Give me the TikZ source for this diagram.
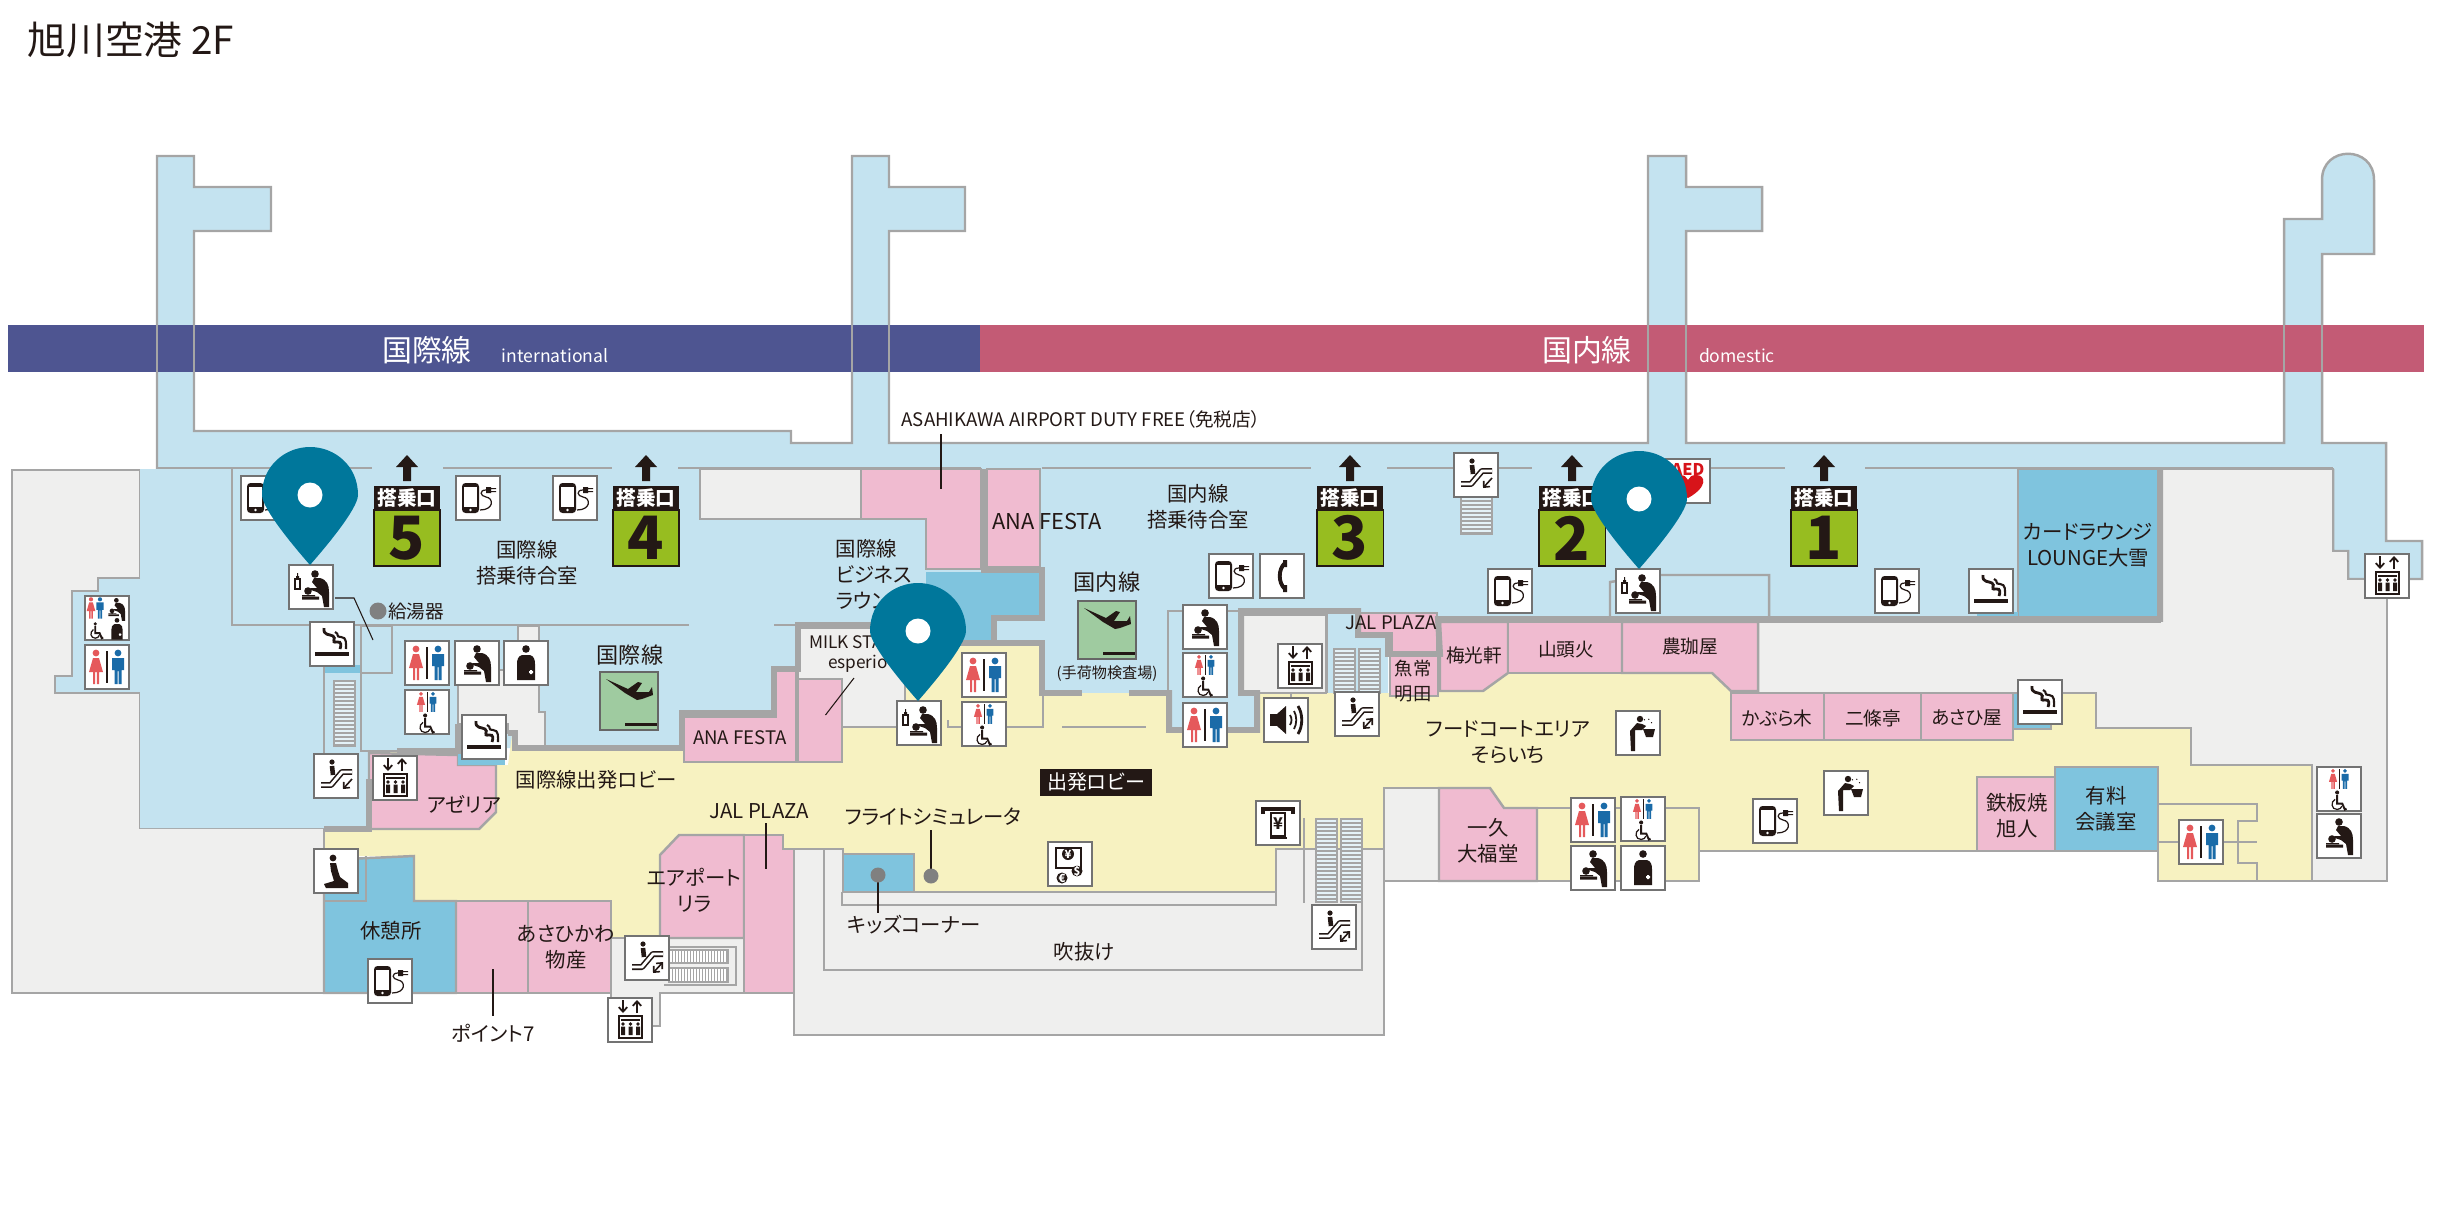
\documentclass[tikz,border=0pt]{standalone}
\usepackage{fontspec}
\setmainfont[RawFeature=+palt]{Noto Sans CJK JP}
\usetikzlibrary{positioning,arrows.meta}
\definecolor{airside}{HTML}{C4E3F0}
\definecolor{room}{HTML}{7FC4DE}
\definecolor{shop}{HTML}{F0BBD0}
\definecolor{lobby}{HTML}{F7F2C1}
\definecolor{blank}{HTML}{EFEFEE}
\definecolor{wall}{HTML}{A5A5A5}
\definecolor{ink}{HTML}{231815}
\definecolor{barblue}{HTML}{4E5591}
\definecolor{barred}{HTML}{C35B75}
\definecolor{gate}{HTML}{97BD20}
\definecolor{planebox}{HTML}{9FCBA0}
\definecolor{pincol}{HTML}{00779B}
\definecolor{manblue}{HTML}{1A6BA8}
\definecolor{womanred}{HTML}{E5595B}
\definecolor{aedred}{HTML}{D7141A}
\newcommand{\manfig}[3]{\begin{scope}[shift={(#1,#2)},scale=#3]
\fill[manblue] (0,-14) circle (3.4);
\fill[manblue] (-6,-9) -- (6,-9) -- (6,3) -- (3.5,3) -- (3.5,17) -- (0.5,17) -- (0.5,4) -- (-0.5,4) -- (-0.5,17) -- (-3.5,17) -- (-3.5,3) -- (-6,3) -- cycle;
\end{scope}}
\newcommand{\womanfig}[3]{\begin{scope}[shift={(#1,#2)},scale=#3]
\fill[womanred] (0,-14) circle (3.4);
\fill[womanred] (-3,-9) -- (3,-9) -- (7,5) -- (3,5) -- (3,17) -- (0.8,17) -- (0.8,5) -- (-0.8,5) -- (-0.8,17) -- (-3,17) -- (-3,5) -- (-7,5) -- cycle;
\end{scope}}
\newcommand{\adultfig}[3]{\begin{scope}[shift={(#1,#2)},scale=#3]
\fill[ink] (-1,-14) circle (3.8);
\fill[ink] (-2,-10) -- (4,-10) .. controls (11,-8) and (13,-3) .. (13,4) -- (13,19) -- (8,19) -- (6,8) -- (1,4) -- (-5,2) -- (-5,0) -- (1,0) -- (-4,-6) -- cycle;
\fill[ink] (-8,3) circle (3.8) (-14,7) rectangle (-1,8) (-14,8.5) rectangle (3,11.5);
\end{scope}}
\newcommand{\wheelfig}[3]{\begin{scope}[shift={(#1,#2)},scale=#3]
\fill[ink] (-1,-10) circle (2.4);
\draw[ink,line width=.55pt] (-1,-7) -- (-1,3) -- (5,3) -- (8,10) -- (10,9);
\draw[ink,line width=.35pt] (-3.5,-2) .. controls (-9,1) and (-8,10) .. (-1,10) .. controls (2,10) and (4,8) .. (4.5,6);
\end{scope}}
\newcommand{\ostofig}[3]{\begin{scope}[shift={(#1,#2)},scale=#3]
\fill[ink] (0,-14) circle (3.8);
\fill[ink] (-4,-8) -- (4,-8) .. controls (8,-7) and (9,-3) .. (9,1) -- (9,17) -- (-9,17) -- (-9,1) .. controls (-9,-3) and (-8,-7) .. (-4,-8) -- cycle;
\fill[white] (3,8) rectangle (7,10) (4,7) rectangle (6,11);
\end{scope}}
\begin{document}
\begin{tikzpicture}
[x=0.01cm,y=-0.01cm,>=stealth,
wallthin/.style = {draw = wall, line width = 0.7pt, line join = miter},
wallthick/.style = {draw = wall, line width = 1.7pt, line join = miter},
shopfill/.style = {wallthin, fill = shop},
roomfill/.style = {wallthin, fill = room},
blankfill/.style = {wallthin, fill = blank},
leader/.style = {draw = ink, line width = 0.3pt},
lab/.style = {text = ink, align = center, inner sep = 0pt, font = \fontsize{5.8}{7.4}\selectfont},
labsm/.style = {lab, font = \fontsize{5.3}{7.4}\selectfont},
labtiny/.style = {lab, font = \fontsize{4.9}{5.8}\selectfont},
labbig/.style = {lab, font = \fontsize{6.3}{7.4}\selectfont},
baricon/.style = {text = white, inner sep = 0pt},
tinyone/.style = {-{Straight Barb[length=1.3pt,width=2.4pt]}},
tinyboth/.style = {{Straight Barb[length=1.3pt,width=2.4pt]}-{Straight Barb[length=1.3pt,width=2.4pt]}},
icon/.style = {draw = black!55, line width = 0.45pt, fill = white, minimum width = 44*0.2845pt, minimum height = 44*0.2845pt, inner sep = 0pt},
gatetop/.style = {fill = ink, minimum width = 66*0.2845pt, minimum height = 24*0.2845pt, inner sep = 0pt, text = white, font = \fontsize{5.6}{6}\selectfont\bfseries},
gatenum/.style = {draw = ink, line width = 0.3pt, fill = gate, minimum width = 66*0.2845pt, minimum height = 56*0.2845pt, inner sep = 0pt, text = ink, font = \fontsize{17}{18}\selectfont\bfseries},
planesq/.style = {draw = black!60, line width = 0.4pt, fill = planebox, minimum width = 58*0.2845pt, minimum height = 58*0.2845pt, inner sep = 0pt},
wc/.pic = {\womanfig{-11}{0}{1} \manfig{11}{0}{1} \fill[ink] (-0.6,-16) rectangle (0.6,16);},
wheel/.pic = {\womanfig{-6}{-10}{.58} \manfig{6}{-10}{.58} \fill[ink] (-0.4,-20) rectangle (0.4,0); \wheelfig{-1}{12}{.85}},
baby/.pic = {\adultfig{1}{0}{1}},
babybottle/.pic = {\adultfig{5}{1}{1} \draw[ink,fill=white,line width=.35pt] (-16,-8) rectangle (-11,2); \fill[ink] (-15,-8) rectangle (-12,-11) (-14,-11) rectangle (-13,-14);},
osto/.pic = {\ostofig{0}{0}{1}},
combo/.pic = {\womanfig{-16}{-10}{.62} \manfig{-7}{-10}{.62} \adultfig{10}{-9}{.62} \wheelfig{-11}{13}{.72} \ostofig{10}{11}{.62}},
smoke/.pic = {\fill[ink] (-17,8) rectangle (17,12);
\draw[ink,line width=.8pt] (-8,-16) .. controls (-9,-8) and (-2,-10) .. (1,-8) .. controls (5,-6) and (-2,-1) .. (5,-2) .. controls (10,-3) and (9,2) .. (8,5);
\draw[ink,line width=.6pt] (3,-12) .. controls (8,-10) and (3,-7) .. (9,-7) .. controls (15,-7) and (14,0) .. (14,5);},
phone/.pic = {\fill[ink,rounded corners=1pt] (-16,-15) rectangle (1,15); \fill[white] (-14,-11) rectangle (-1,9); \fill[white] (-7.5,12) circle (1.4);
\fill[ink] (8,-11) rectangle (13,-5) (13,-10) rectangle (18,-9) (13,-7) rectangle (18,-6);
\draw[ink,line width=.35pt] (8,-8) .. controls (1,-8) and (2,-2) .. (8,-1) .. controls (16,0) and (16,12) .. (2,12);},
tel/.pic = {\draw[ink,line width=1.1pt] (3,-13) .. controls (-4,-7) and (-4,7) .. (3,13); \fill[ink] (1,-16) rectangle (5,-9) (1,9) rectangle (5,16);},
speaker/.pic = {\fill[ink] (-16,-6) rectangle (-9,6); \fill[ink] (-9,-6) -- (0,-14) -- (0,14) -- (-9,6) -- cycle;
\draw[ink,line width=.5pt] (4,-5) .. controls (6,-2) and (6,2) .. (4,5) (8,-9) .. controls (11,-4) and (11,4) .. (8,9);
\draw[ink,line width=.8pt] (12,-14) .. controls (17,-6) and (17,6) .. (12,14);},
escband/.pic = {\draw[ink,line width=1.7pt,line join=round] (-15,9) -- (-5,9) -- (6,-4) -- (16,-4);
\draw[white,line width=.8pt,line join=round] (-15,9) -- (-5,9) -- (6,-4) -- (16,-4);
\fill[ink] (-4,-14) circle (2.6); \draw[ink,line width=1.3pt] (-4,-10) -- (-3,-1);},
escdown/.pic = {\pic {escband}; \draw[ink,line width=.45pt,tinyone] (16,3) -- (7,13);},
escboth/.pic = {\pic {escband}; \draw[ink,line width=.45pt,tinyboth] (16,4) -- (6,15);},
elevator/.pic = {\draw[ink,line width=.5pt,tinyone] (-7,-20) -- (-7,-7); \draw[ink,line width=.5pt,tinyone] (7,-7) -- (7,-20);
\draw[ink,line width=.6pt] (-11,-4) rectangle (12,18); \draw[ink,line width=.3pt] (-9,0) -- (10,0);
\fill[ink] (-7,4) circle (1.8) (0.5,4) circle (1.8) (8,4) circle (1.8) (-9,6.5) rectangle (-5,15) (-1.5,6.5) rectangle (2.5,15) (6,6.5) rectangle (10,15);},
prayer/.pic = {\fill[ink] (-3,-13) circle (3.4);
\fill[ink] (-6,-8) -- (0,-8) -- (2,0) -- (4,6) -- (12,12) -- (12,17) -- (-10,17) -- (-12,13) -- (-2,10) -- (-5,0) -- cycle;},
drink/.pic = {\fill[ink] (2,-14) circle (3.2);
\fill[ink] (-1,-10) -- (4,-9) -- (8,-7) -- (4,-3) -- (-3,-3) -- (-3,18) -- (-7,18) -- (-8,-2) -- cycle;
\fill[ink] (5,-4) -- (17,-4) -- (15,4) -- (8,4) -- cycle;
\draw[ink,line width=.3pt,densely dotted] (6,-13) .. controls (10,-16) and (14,-13) .. (14,-8);},
atm/.pic = {\draw[ink,line width=.9pt] (-15,-9) -- (-15,-14) -- (15,-14) -- (15,-9); \draw[ink,line width=.5pt,fill=white] (-7,-10) rectangle (7,13);
\draw[ink,line width=.5pt] (-7,-10) -- (-7,15) -- (9,15);
\node (atmYen) at (0,1) [inner sep=0pt,text=ink,font=\fontsize{4.6}{5}\selectfont\bfseries] {¥};},
exchange/.pic = {\draw[ink,line width=.6pt] (-14,-16) rectangle (11,4); \fill[ink] (-2,-10) circle (6);
\node (exYen) at (-2,-10) [inner sep=0pt,text=white,font=\fontsize{3.2}{4}\selectfont\bfseries] {¥};
\fill[ink] (7,7) circle (5.5); \node (exDollar) at (7,7) [inner sep=0pt,text=white,font=\fontsize{3.2}{4}\selectfont\bfseries] {\$};
\fill[ink] (-8,14) circle (5.5); \node (exEuro) at (-8,14) [inner sep=0pt,text=white,font=\fontsize{3.2}{4}\selectfont\bfseries] {€};},
aed/.pic = {\node (aedText) at (0,-12) [inner sep=0pt,text=aedred,font=\fontsize{4.6}{5}\selectfont\bfseries] {AED};
\fill[aedred] (0,17) .. controls (-20,6) and (-18,-6) .. (-8,-6) .. controls (-4,-6) and (-1,-4) .. (0,-1) .. controls (1,-4) and (4,-6) .. (8,-6) .. controls (18,-6) and (20,6) .. (0,17) -- cycle;},
plane/.pic = {\fill[ink] (-23,-22) -- (-1,-12) -- (9,-19) -- (13,-18) -- (7,-9) -- (20,-9) -- (23,-14) -- (24,-6) -- (13,-2) -- (8,-1) -- (-4,-8) -- cycle; \fill[ink] (-4,22) rectangle (28,25);},
pin/.pic = {\fill[pincol] (0,0) .. controls (-14,-16) and (-48,-56) .. (-48,-70) .. controls (-48,-100) and (-24,-118) .. (0,-118) .. controls (24,-118) and (48,-100) .. (48,-70) .. controls (48,-56) and (14,-16) .. (0,0) -- cycle;
\fill[white] (0,-70) ellipse (12.5 and 12.5);},
]
\useasboundingbox (0,0) rectangle (2460,1230);
% outer gray parts
\draw[blankfill] (12,470) -- (140,470) -- (140,828) -- (324,828) -- (324,993) -- (12,993) -- cycle;
% piers and corridor
\def\pierpath{(157,469) -- (157,156) -- (194,156) -- (194,187) -- (271,187) -- (271,231) -- (194,231) -- (194,431) -- (791,431) -- (791,443) -- (852,443) -- (852,156) -- (889,156) -- (889,187) -- (965,187) -- (965,231) -- (889,231) -- (889,443) -- (1648,443) -- (1648,156) -- (1686,156) -- (1686,187) -- (1762,187) -- (1762,231) -- (1686,231) -- (1686,443) -- (2284,443) -- (2284,219) -- (2322,219) -- (2322,180) .. controls (2322,145) and (2374,145) .. (2374,180) -- (2374,254) -- (2322,254) -- (2322,443) -- (2386,443) -- (2386,541) -- (2422,541) -- (2422,579) -- (2348,579) -- (2348,551) -- (2333,551) -- (2333,469)}
\fill[airside] \pierpath -- cycle;
\draw[wallthin] \pierpath;
% airside base
\fill[airside] (140,469) -- (2160,469) -- (2160,619) -- (1440,619) -- (1440,654) -- (1388,654) -- (1388,693) -- (1327,693) -- (1327,611) -- (1240,611) -- (1240,693) -- (1258,693) -- (1258,731) -- (1170,731) -- (1170,693) -- (1042,693) -- (1042,643) -- (798,643) -- (798,669) -- (774,669) -- (774,713) -- (682,713) -- (682,748) -- (458,748) -- (458,751) -- (397,751) -- (369,779) -- (369,828) -- (140,828) -- cycle;
\fill[airside] (140,578) -- (98,578) -- (98,591) -- (72,591) -- (72,676) -- (55,676) -- (55,693) -- (140,693) -- cycle;
\draw[wallthin] (140,578) -- (98,578) -- (98,591) -- (72,591) -- (72,676) -- (55,676) -- (55,693) -- (140,693);
% departure lobby
\fill[lobby] (324,830) -- (369,830) -- (369,752) -- (458,752) -- (458,765) -- (508,765) -- (512,735) -- (517,748) -- (684,748) -- (684,762) -- (842,762) -- (842,727) -- (905,727) -- (905,643) -- (1043,643) -- (1043,693) -- (1170,693) -- (1170,731) -- (1258,731) -- (1258,693) -- (1291,693) -- (1291,688) -- (1322,688) -- (1322,657) -- (1327,657) -- (1327,693) -- (1390,693) -- (1440,691) -- (1483,691) -- (1508,673) -- (1712,673) -- (1731,691) -- (1731,740) -- (2013,740) -- (2013,693) -- (2096,693) -- (2096,728) -- (2191,728) -- (2191,765) -- (2312,765) -- (2312,881) -- (2158,881) -- (2158,851) -- (1699,851) -- (1699,881) -- (1537,881) -- (1537,808) -- (1504,808) -- (1490,788) -- (1384,788) -- (1384,849) -- (1276,849) -- (1276,892) -- (914,892) -- (914,854) -- (843,854) -- (843,849) -- (783,849) -- (783,835) -- (679,835) -- (660,855) -- (660,938) -- (611,938) -- (611,901) -- (414,901) -- (414,856) -- (324,856) -- cycle;
% gray parts
\draw[blankfill] (700,469) rectangle (861,519);
\draw[blankfill] (518,626) -- (539,626) -- (539,712) -- (545,712) -- (545,748) -- (515,748) -- (515,733) -- (508,733) -- (508,724) -- (458,724) -- (458,670) -- (518,670) -- cycle;
\draw[blankfill] (798,628) -- (905,628) -- (905,727) -- (842,727) -- (842,679) -- (798,679) -- cycle;
\draw[blankfill] (1243,615) rectangle (1326,693);
\draw[blankfill] (2160,469) -- (2333,469) -- (2333,551) -- (2348,551) -- (2348,579) -- (2387,579) -- (2387,881) -- (2312,881) -- (2312,765) -- (2191,765) -- (2191,728) -- (2096,728) -- (2096,693) -- (1758,693) -- (1758,622) -- (2160,622) -- cycle;
\draw[blankfill] (794,849) -- (843,849) -- (843,892) -- (1276,892) -- (1276,849) -- (1384,849) -- (1384,1035) -- (794,1035) -- cycle;
\draw[blankfill] (1384,788) rectangle (1439,881);
\draw[blankfill] (611,938) -- (744,938) -- (744,993) -- (660,993) -- (660,1026) -- (611,1026) -- cycle;
% shops
\draw[shopfill] (861,469) -- (981,469) -- (981,569) -- (926,569) -- (926,519) -- (861,519) -- cycle;
\draw[shopfill] (987,469) rectangle (1040,567);
\draw[shopfill] (684,717) -- (776,717) -- (776,671) -- (796,671) -- (796,762) -- (684,762) -- cycle;
\draw[shopfill] (798,679) rectangle (842,762);
\draw[shopfill] (369,753) -- (458,755) -- (458,765) -- (496,765) -- (496,812) -- (479,829) -- (369,829) -- cycle;
\draw[shopfill] (456,901) rectangle (528,993);
\draw[shopfill] (528,901) rectangle (611,993);
\draw[shopfill] (660,855) -- (679,835) -- (744,835) -- (744,938) -- (660,938) -- cycle;
\draw[shopfill] (744,835) -- (783,835) -- (783,849) -- (794,849) -- (794,993) -- (744,993) -- cycle;
\draw[shopfill] (1359,613) -- (1437,613) -- (1437,652) -- (1392,652) -- (1392,633) -- (1359,633) -- cycle;
\draw[shopfill] (1390,656) rectangle (1438,696);
\draw[shopfill] (1440,622) -- (1508,622) -- (1508,673) -- (1483,691) -- (1440,691) -- cycle;
\draw[shopfill] (1508,622) rectangle (1622,673);
\draw[shopfill] (1622,622) -- (1758,622) -- (1758,691) -- (1731,691) -- (1712,673) -- (1622,673) -- cycle;
\draw[shopfill] (1731,693) rectangle (1824,740);
\draw[shopfill] (1824,693) rectangle (1921,740);
\draw[shopfill] (1921,693) rectangle (2013,740);
\draw[shopfill] (1439,788) -- (1490,788) -- (1504,808) -- (1537,808) -- (1537,881) -- (1439,881) -- cycle;
\draw[shopfill] (1977,777) rectangle (2055,851);
% rooms
\draw[roomfill] (2018,469) rectangle (2158,619);
\draw[roomfill] (2055,767) rectangle (2158,851);
\draw[roomfill] (324,860) -- (414,856) -- (414,901) -- (456,901) -- (456,993) -- (324,993) -- cycle;
\draw[roomfill] (843,854) rectangle (914,892);
\draw[roomfill] (2013,693) rectangle (2051,729);
\fill[room] (926,572) -- (1040,572) -- (1040,618) -- (994,618) -- (994,643) -- (905,643) -- (905,600) -- (926,600) -- cycle;
\fill[room] (458,724) rectangle (505,765);
\fill[room] (324,665) rectangle (361,673);
\fill[room] (1977,612) rectangle (2018,619);
% stairs
\foreach \xa/\xb/\ya/\yb in {334/355/681/746,1316/1337/819/902,1341/1362/819/902,1461/1492/497/534,1334/1355/649/693,1359/1380/649/693}{
\draw[wallthin,fill=airside!45!white] (\xa,\ya) rectangle (\xb,\yb);
\foreach \yy in {\ya,...,\yb}{\pgfmathparse{int(mod(\yy-\ya,4))}\ifnum\pgfmathresult=0 \draw[wall,line width=.4pt] (\xa,\yy) -- (\xb,\yy);\fi}}
\foreach \ya/\yb in {950/963,968/982}{
\draw[wallthin,fill=white] (669,\ya) rectangle (728,\yb);
\foreach \xx in {669,672,...,728}{\draw[wall,line width=.25pt] (\xx,\ya) -- (\xx,\yb);}}
\draw[wallthin] (664,947) -- (736,947) -- (736,985) -- (664,985);
% thin walls
\draw[wallthin] (157,468) -- (372,468) (443,468) -- (612,468) (678,468) -- (708,468) (1042,468) -- (1311,468) (1387,468) -- (1532,468) (1710,468) -- (1785,468) (1865,468) -- (2333,468);
\draw[wallthin] (708,468) -- (981,468);
\draw[wallthin] (232,469) -- (232,625) -- (689,625) (774,625) -- (798,625);
\draw[wallthin] (324,625) -- (324,753) (361,625) -- (361,751) -- (397,751);
\draw[wallthin] (361,626) -- (392,626) -- (392,673) -- (361,673);
\draw[wallthin] (324,830) -- (324,860) (366,856) -- (366,901) -- (324,901) (456,901) -- (611,901) -- (611,938);
\draw[wallthin] (948,720) -- (948,727) -- (1043,727) -- (1043,693) (1062,727) -- (1146,727);
\draw[wallthin] (1168,693) -- (1168,611) -- (1241,611);
\draw[wallthin] (1327,611) -- (1327,693) (1291,693) -- (1291,698);
\draw[wallthin] (1610,618) -- (1610,582) -- (1660,575) -- (1769,575) -- (1769,618);
\draw[wallthin] (824,849) -- (824,970) -- (1362,970) -- (1362,849);
\draw[wallthin] (842,892) -- (842,905) -- (1276,905) -- (1276,892);
\draw[wallthin] (1304,818) -- (1304,903);
\draw[wallthin] (1537,808) -- (1699,808) -- (1699,881) -- (1537,881) (1699,851) -- (1977,851);
\draw[wallthin] (2158,851) -- (2158,881) -- (2312,881);
\draw[wallthin] (2158,804) -- (2257,804) -- (2257,821) -- (2238,821) -- (2238,863) -- (2257,863) -- (2257,881) (2158,842) -- (2257,842);
% thick walls
\draw[wallthick] (324,829) -- (369,829) -- (369,779);
\draw[wallthick] (397,751) -- (458,751) -- (458,724);
\draw[wallthick] (508,733) -- (515,733) -- (515,748) -- (682,748) -- (682,713) -- (774,713) -- (774,669) -- (798,669) -- (798,625) -- (900,625) -- (900,643) -- (1042,643) -- (1042,693) -- (1082,693);
\draw[wallthick] (984,469) -- (984,570) -- (1042,570) -- (1042,618) -- (994,618) -- (994,643);
\draw[wallthick] (1129,693) -- (1169,693) -- (1169,730) -- (1257,730) -- (1257,693) -- (1241,693) -- (1241,611) -- (1358,611) -- (1358,635) -- (1388,635) -- (1388,654) -- (1440,654) -- (1438,619) -- (2160,619) -- (2160,469);
% leaders
\draw[leader] (941,434) -- (941,489);
\draw[leader] (766,823) -- (766,869);
\draw[leader] (493,969) -- (493,1016);
\draw[leader] (878,875) -- (878,913);
\draw[leader] (931,830) -- (931,876);
\draw[leader] (335,598) -- (354,598) -- (373,640);
\draw[leader] (854,678) -- (825.5,715);
\fill[black!50] (378,611) circle (8.5) (878,875) circle (7.5) (931,876) circle (7.5);
% bar
\fill[barblue] (8,325) rectangle (980,372);
\fill[barred] (980,325) rectangle (2424,372);
\draw[wallthin] (157,325) -- (157,372) (194,325) -- (194,372) (852,325) -- (852,372) (889,325) -- (889,372) (1648,325) -- (1648,372) (1686,325) -- (1686,372) (2284,325) -- (2284,372) (2322,325) -- (2322,372);
\node (barIntl) at (427,350)[baricon,font=\fontsize{8.5}{9}\selectfont] {国際線};
\node (barIntlEn) at (555,356)[baricon,font=\fontsize{5}{6}\selectfont] {international};
\node (barDom) at (1587,350)[baricon,font=\fontsize{8.5}{9}\selectfont] {国内線};
\node (barDomEn) at (1737,356)[baricon,font=\fontsize{5}{6}\selectfont] {domestic};
% title and labels
\node (title) at (131,40)[lab,font=\fontsize{11}{12}\selectfont] {旭川空港 2F};
\node (dutyfree) at (1081,419)[labsm] {ASAHIKAWA AIRPORT DUTY FREE（免税店）};
\node (waitIntl) at (527,563)[lab] {国際線\\搭乗待合室};
\node (waitDom) at (1198,507)[lab] {国内線\\搭乗待合室};
\node (intlMark) at (630,655)[labbig] {国際線};
\node (domMark) at (1107,582)[labbig] {国内線};
\node (check) at (1107,674)[lab,font=\fontsize{4.3}{5}\selectfont] {(手荷物検査場)};
\node (anaA) at (740,738)[lab,font=\fontsize{5.3}{7}\selectfont] {ANA FESTA};
\node (anaB) at (1047,522)[lab,font=\fontsize{6.2}{7}\selectfont] {ANA FESTA};
\node (azalea) at (464,804)[lab] {アゼリア};
\node (intlLobby) at (596,780)[lab] {国際線出発ロビー};
\node (jalA) at (759,811)[lab] {JAL PLAZA};
\node (jalB) at (1391,623)[labsm] {JAL PLAZA};
\node (lyra) at (694,890)[lab] {エアポート\\リラ};
\node (rest) at (391,931)[lab] {休憩所};
\node (bussan) at (566,947)[lab] {あさひかわ\\物産};
\node (point) at (493,1033)[lab] {ポイント7};
\node (bizLounge) at (835,574)[lab,anchor=west,align=left] {国際線\\ビジネス\\ラウンジ};
\node (milk) at (858,654)[labtiny] {MILK STAND\\esperio};
\node (uoA) at (1413,681)[labsm,font=\fontsize{5.2}{6.9}\selectfont] {魚常\\明田};
\node (baiko) at (1474,655)[labsm] {梅光軒};
\node (santoka) at (1566,650)[labsm] {山頭火};
\node (nokaya) at (1690,646)[labsm] {農珈屋};
\node (card) at (2088,545)[lab] {カードラウンジ\\LOUNGE大雪};
\node (food) at (1508,742)[lab] {フードコートエリア\\そらいち};
\node (kabura) at (1777,718)[labsm] {かぶら木};
\node (nijo) at (1873,718)[labsm] {二條亭};
\node (asahiya) at (1967,718)[labsm] {あさひ屋};
\node (teppan) at (2017,816)[lab] {鉄板焼\\旭人};
\node (kaigi) at (2106,809)[lab] {有料\\会議室};
\node (ikkyu) at (1488,841)[lab] {一久\\大福堂};
\node (depart) at (1096,782)[fill=ink,text=white,minimum width=112*0.2845pt,minimum height=27*0.2845pt,inner sep=0pt,font=\fontsize{5.7}{6}\selectfont] {出発ロビー};
\node (sim) at (933,817)[lab] {フライトシミュレータ};
\node (kids) at (914,925)[lab] {キッズコーナー};
\node (void) at (1084,952)[lab] {吹抜け};
\node (hotwater) at (416,611)[labsm] {給湯器};
% plane boxes
\node (planeIntl) at (629,701)[planesq] {};
\pic at (planeIntl) {plane};
\node (planeDom) at (1107,630)[planesq] {};
\pic at (planeDom) {plane};
% gates
\foreach \g/\gx in {5/407,4/646,3/1350,2/1572,1/1824}{
\fill[ink] (\gx-4,481) -- (\gx-4,467) -- (\gx-11,467) -- (\gx,455) -- (\gx+11,467) -- (\gx+4,467) -- (\gx+4,481) -- cycle;
\node (gateNum\g) at (\gx,538)[gatenum] {\g};
\node (gateTop\g) at (\gx,498)[gatetop] {搭乗口};}
% icons
\node (phA) at (263,498)[icon] {}; \pic at (phA) {phone};
\node (phB) at (478,498)[icon] {}; \pic at (phB) {phone};
\node (phC) at (575,498)[icon] {}; \pic at (phC) {phone};
\node (phD) at (390,981)[icon] {}; \pic at (phD) {phone};
\node (phE) at (1231,576)[icon] {}; \pic at (phE) {phone};
\node (phF) at (1510,591)[icon] {}; \pic at (phF) {phone};
\node (phG) at (1897,591)[icon] {}; \pic at (phG) {phone};
\node (phH) at (1775,821)[icon] {}; \pic at (phH) {phone};
\node (telA) at (1282,576)[icon] {}; \pic at (telA) {tel};
\node (babyA) at (311,587)[icon] {}; \pic at (babyA) {babybottle};
\node (babyB) at (919,723)[icon] {}; \pic at (babyB) {babybottle};
\node (babyC) at (1638,591)[icon] {}; \pic at (babyC) {babybottle};
\node (babyD) at (477,663)[icon] {}; \pic at (babyD) {baby};
\node (babyE) at (1205,627)[icon] {}; \pic at (babyE) {baby};
\node (babyF) at (1593,868)[icon] {}; \pic at (babyF) {baby};
\node (babyG) at (2339,836)[icon] {}; \pic at (babyG) {baby};
\node (smokeA) at (332,644)[icon] {}; \pic at (smokeA) {smoke};
\node (smokeB) at (484,737)[icon] {}; \pic at (smokeB) {smoke};
\node (smokeC) at (1991,591)[icon] {}; \pic at (smokeC) {smoke};
\node (smokeD) at (2040,702)[icon] {}; \pic at (smokeD) {smoke};
\node (comboA) at (107,618)[icon] {}; \pic at (comboA) {combo};
\node (wcA) at (107,667)[icon] {}; \pic at (wcA) {wc};
\node (wcB) at (427,663)[icon] {}; \pic at (wcB) {wc};
\node (wcC) at (984,675)[icon] {}; \pic at (wcC) {wc};
\node (wcD) at (1205,725)[icon] {}; \pic at (wcD) {wc};
\node (wcE) at (1593,820)[icon] {}; \pic at (wcE) {wc};
\node (wcF) at (2201,842)[icon] {}; \pic at (wcF) {wc};
\node (whA) at (427,712)[icon] {}; \pic at (whA) {wheel};
\node (whB) at (984,724)[icon] {}; \pic at (whB) {wheel};
\node (whC) at (1205,675)[icon] {}; \pic at (whC) {wheel};
\node (whD) at (1643,819)[icon] {}; \pic at (whD) {wheel};
\node (whE) at (2339,789)[icon] {}; \pic at (whE) {wheel};
\node (ostoA) at (526,663)[icon] {}; \pic at (ostoA) {osto};
\node (ostoB) at (1643,868)[icon] {}; \pic at (ostoB) {osto};
\node (escA) at (336,776)[icon] {}; \pic at (escA) {escdown};
\node (escB) at (647,958)[icon] {}; \pic at (escB) {escboth};
\node (escC) at (1357,714)[icon] {}; \pic at (escC) {escboth};
\node (escD) at (1334,927)[icon] {}; \pic at (escD) {escboth};
\node (escE) at (1476,475)[icon] {}; \pic at (escE) {escdown};
\node (elevA) at (395,778)[icon] {}; \pic at (elevA) {elevator};
\node (elevB) at (630,1020)[icon] {}; \pic at (elevB) {elevator};
\node (elevC) at (1300,666)[icon] {}; \pic at (elevC) {elevator};
\node (elevD) at (2387,576)[icon] {}; \pic at (elevD) {elevator};
\node (pray) at (336,871)[icon] {}; \pic at (pray) {prayer};
\node (spk) at (1286,720)[icon] {}; \pic at (spk) {speaker};
\node (atmA) at (1278,823)[icon] {}; \pic at (atmA) {atm};
\node (exch) at (1070,864)[icon] {}; \pic at (exch) {exchange};
\node (drinkA) at (1638,733)[icon] {}; \pic at (drinkA) {drink};
\node (drinkB) at (1846,793)[icon] {}; \pic at (drinkB) {drink};
\node (aedA) at (1688,481)[icon] {}; \pic at (aedA) {aed};
% pins
\coordinate (pinA) at (310,565); \pic at (pinA) {pin};
\coordinate (pinB) at (918,701); \pic at (pinB) {pin};
\coordinate (pinC) at (1639,569); \pic at (pinC) {pin};
\end{tikzpicture}
\end{document}
